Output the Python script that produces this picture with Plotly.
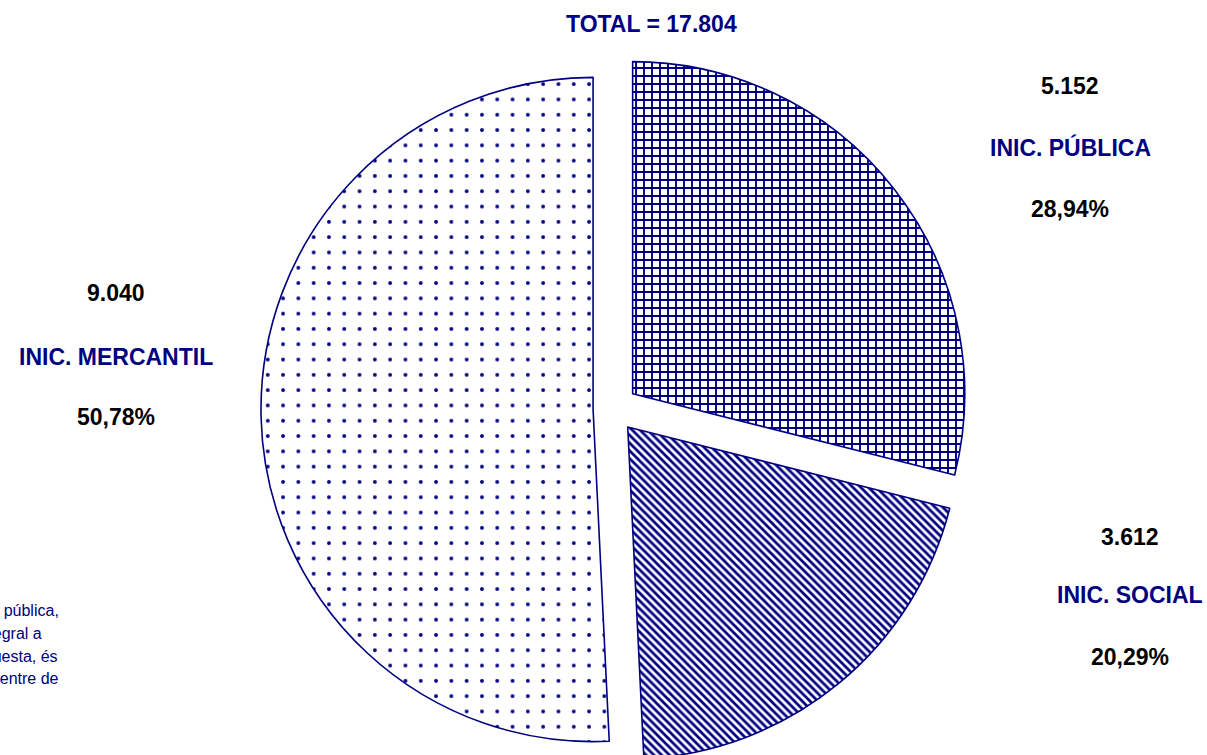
import plotly.graph_objects as go

# ---- data ----
categories = ["INIC. PÚBLICA", "INIC. SOCIAL", "INIC. MERCANTIL"]
values = [5152, 3612, 9040]
patterns = ["+", "\\", "."]
title_text = "TOTAL"
note_lines = [
    "centres d'iniciativa pública,",
    "en règim de concert integral a",
    "efectes de la present enquesta, és",
    "a dir, segons la titularitat del centre de",
]

NAVY = "#000080"
W, H = 1207, 770
total = sum(values)


def fmt_int(v):
    return f"{v:,}".replace(",", ".")


def fmt_pct(v):
    return f"{100 * v / total:.2f}".replace(".", ",") + "%"


def px(x):
    return x / W


def py(y):
    return 1 - y / H


fig = go.Figure(
    go.Pie(
        labels=categories,
        values=values,
        sort=False,
        direction="clockwise",
        rotation=0,
        pull=[0.075, 0.07, 0.06],
        textinfo="none",
        hoverinfo="label+value+percent",
        marker=dict(
            colors=["white"] * 3,
            line=dict(color=NAVY, width=1.6),
            pattern=dict(
                shape=patterns,
                fgcolor=NAVY,
                bgcolor="white",
                size=[8, 5.5, 15.3],
                solidity=[0.42, 0.5, 0.05],
                fillmode="replace",
            ),
        ),
        domain=dict(x=[19 / W, 1], y=[1 - 766 / H, 1 - 52 / H]),
        showlegend=False,
    )
)

FONT = "Liberation Sans, Arial, sans-serif"
annotations = []
annotations.append(dict(x=px(651), y=py(24), text=f"<b>{title_text} = {fmt_int(total)}</b>",
                        font=dict(size=23, color=NAVY, family=FONT)))

label_pos = {
    "INIC. PÚBLICA": (1070, [86, 147, 209]),
    "INIC. SOCIAL": (1130, [537, 595, 657]),
    "INIC. MERCANTIL": (116, [293, 357, 417]),
}
for cat, val in zip(categories, values):
    x, ys = label_pos[cat]
    texts = [(fmt_int(val), "black"), (cat, NAVY), (fmt_pct(val), "black")]
    for (t, c), y in zip(texts, ys):
        annotations.append(dict(x=px(x), y=py(y), text=f"<b>{t}</b>",
                                font=dict(size=23, color=c, family=FONT)))

note_ends = [61, 44, 60, 61]
note_ys = [610, 633, 656, 678]
for t, xe, y in zip(note_lines, note_ends, note_ys):
    annotations.append(dict(x=px(xe), y=py(y), text=t, xanchor="right",
                            font=dict(size=16, color=NAVY, family=FONT)))

for a in annotations:
    a.update(xref="paper", yref="paper", showarrow=False, yanchor="middle")
    a.setdefault("xanchor", "center")

fig.update_layout(
    width=W,
    height=H,
    margin=dict(l=0, r=0, t=0, b=0),
    paper_bgcolor="white",
    plot_bgcolor="white",
    annotations=annotations,
)

fig.write_html(
    "out.html",
    config={"displayModeBar": False},
    post_script="document.documentElement.style.overflow='hidden';document.body.style.overflow='hidden';document.body.style.margin='0';",
)
